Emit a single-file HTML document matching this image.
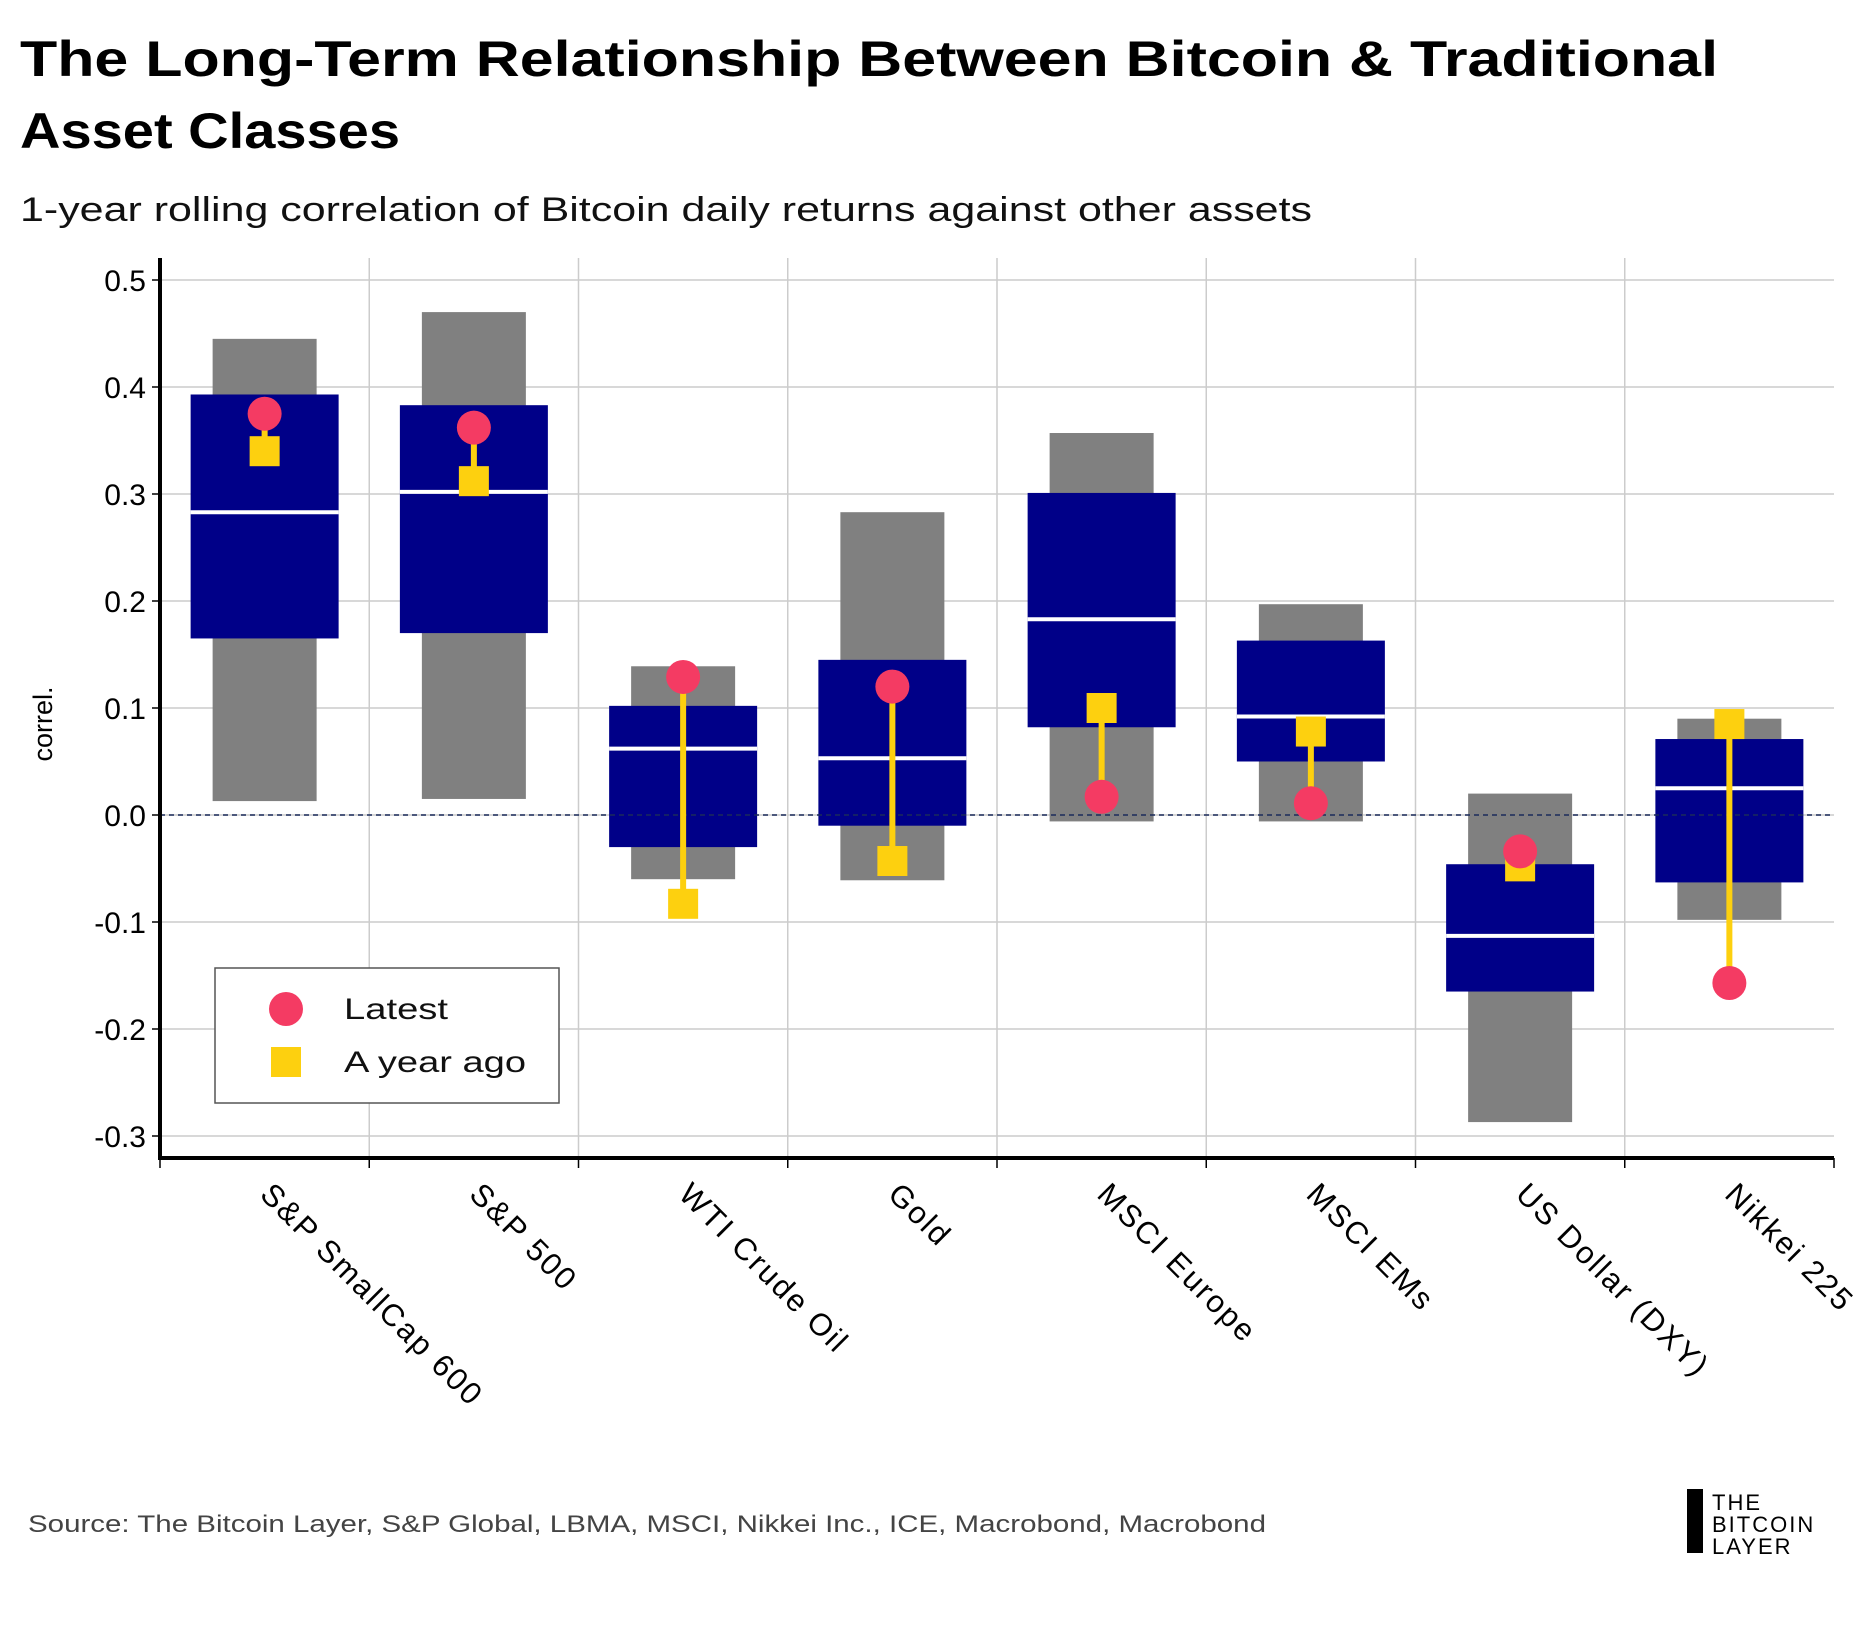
<!DOCTYPE html>
<html><head><meta charset="utf-8"><style>
body{margin:0;background:#fff;width:1875px;height:1625px;overflow:hidden;font-family:"Liberation Sans",sans-serif}
svg text{font-family:"Liberation Sans",sans-serif}
</style></head><body>
<svg id="chart" width="1875" height="1625" viewBox="0 0 1875 1625">
<text x="20" y="76" font-size="50" font-weight="bold" fill="#000" textLength="1698" lengthAdjust="spacingAndGlyphs">The Long-Term Relationship Between Bitcoin &amp; Traditional</text>
<text x="20" y="148" font-size="50" font-weight="bold" fill="#000" textLength="380" lengthAdjust="spacingAndGlyphs">Asset Classes</text>
<text x="20" y="221" font-size="34" fill="#111" textLength="1292" lengthAdjust="spacingAndGlyphs">1-year rolling correlation of Bitcoin daily returns against other assets</text>
<g id="plot"></g>
<text transform="translate(52,724) rotate(-90)" text-anchor="middle" font-size="27" fill="#000">correl.</text>
<g>
<rect x="215" y="968" width="344" height="135" fill="#fff" stroke="#555" stroke-width="1.5"/>
<circle cx="286" cy="1009" r="17" fill="#f43b63"/>
<text x="344" y="1019" font-size="30" fill="#111" textLength="104" lengthAdjust="spacingAndGlyphs">Latest</text>
<rect x="271" y="1047" width="30" height="30" fill="#fdd00f"/>
<text x="344" y="1072" font-size="30" fill="#111" textLength="182" lengthAdjust="spacingAndGlyphs">A year ago</text>
</g>
<text x="28" y="1532" font-size="24" fill="#444" textLength="1238" lengthAdjust="spacingAndGlyphs">Source: The Bitcoin Layer, S&amp;P Global, LBMA, MSCI, Nikkei Inc., ICE, Macrobond, Macrobond</text>
<g>
<rect x="1687" y="1489" width="16" height="64" fill="#000"/>
<text x="1712" y="1510" font-size="22" fill="#000" letter-spacing="2">THE</text>
<text x="1712" y="1532" font-size="22" fill="#000" letter-spacing="2">BITCOIN</text>
<text x="1712" y="1554" font-size="22" fill="#000" letter-spacing="2">LAYER</text>
</g>
</svg>
<script>
const categories=["S&P SmallCap 600","S&P 500","WTI Crude Oil","Gold","MSCI Europe","MSCI EMs","US Dollar (DXY)","Nikkei 225"];
const rangeLow=[0.013,0.015,-0.060,-0.061,-0.006,-0.006,-0.287,-0.098];
const rangeHigh=[0.445,0.470,0.139,0.283,0.357,0.197,0.020,0.090];
const boxLow=[0.165,0.170,-0.030,-0.010,0.082,0.050,-0.165,-0.063];
const boxHigh=[0.393,0.383,0.102,0.145,0.301,0.163,-0.046,0.071];
const medians=[0.283,0.302,0.062,0.053,0.183,0.092,-0.113,0.025];
const latest=[0.375,0.362,0.129,0.120,0.017,0.011,-0.034,-0.157];
const yearAgo=[0.340,0.312,-0.083,-0.043,0.100,0.078,-0.048,0.085];
const yTicks=[-0.3,-0.2,-0.1,0.0,0.1,0.2,0.3,0.4,0.5];
const X0=160,X1=1834,Y0=815,PER=1070;
const bw=(X1-X0)/categories.length;
const y=v=>Y0-v*PER;
const xc=i=>X0+bw*(i+0.5);
const NS="http://www.w3.org/2000/svg";
const g=document.getElementById('plot');
function mk(t,a,p){const e=document.createElementNS(NS,t);for(const k in a)e.setAttribute(k,a[k]);(p||g).appendChild(e);return e;}
yTicks.forEach(v=>{
 const l=mk('line',{x1:X0,x2:X1,y1:y(v),y2:y(v),stroke:'#ccc','stroke-width':1.5});
 
 
 const t=mk('line',{x1:X0-8,x2:X0,y1:y(v),y2:y(v),stroke:'#000','stroke-width':1.5});
 
 
 const tx=mk('text',{x:X0-14,y:y(v)+11,'text-anchor':'end','font-size':30,fill:'#000'});
 tx.textContent=v.toFixed(1);
 
 
});
for(let i=1;i<categories.length;i++){
 const l=mk('line',{x1:X0+bw*i,x2:X0+bw*i,y1:258,y2:y(-0.3)+22,stroke:'#ccc','stroke-width':1.5});
 
 
}
categories.forEach((c,i)=>{
 const cx=xc(i);
 const r=mk('rect',{x:cx-52,width:104,y:y(rangeHigh[i]),height:y(rangeLow[i])-y(rangeHigh[i]),fill:'#808080'});
 
 
 const b=mk('rect',{x:cx-74,width:148,y:y(boxHigh[i]),height:y(boxLow[i])-y(boxHigh[i]),fill:'#000088'});
 
 
 const m=mk('line',{x1:cx-74,x2:cx+74,y1:y(medians[i]),y2:y(medians[i]),stroke:'#fff','stroke-width':4});
 
 
});
const z=mk('line',{x1:X0,x2:X1,y1:Y0,y2:Y0,stroke:'#1a2a5a','stroke-width':1.5,'stroke-dasharray':'5,4'});


categories.forEach((c,i)=>{
 const cx=xc(i);
 const cl=mk('line',{x1:cx,x2:cx,y1:y(latest[i]),y2:y(yearAgo[i]),stroke:'#fdd00f','stroke-width':6});
 
 
 const s=mk('rect',{x:cx-15,y:y(yearAgo[i])-15,width:30,height:30,fill:'#fdd00f'});
 
 
 const p=mk('circle',{cx:cx,cy:y(latest[i]),r:17,fill:'#f43b63'});
 
 
 const t=mk('line',{x1:X0+bw*i,x2:X0+bw*i,y1:y(-0.3)+22,y2:y(-0.3)+32,stroke:'#000','stroke-width':1.5});
 
 
 const lab=mk('text',{transform:`translate(${cx-6},${1196}) rotate(45)`,'font-size':31,'letter-spacing':2.2,fill:'#000'});
 lab.textContent=c;
 
 
});
const t8=mk('line',{x1:X1,x2:X1,y1:y(-0.3)+22,y2:y(-0.3)+32,stroke:'#000','stroke-width':1.5});


const ya=mk('line',{x1:X0,x2:X0,y1:258,y2:y(-0.3)+24,stroke:'#000','stroke-width':4});


const xa=mk('line',{x1:X0-2,x2:X1,y1:y(-0.3)+22,y2:y(-0.3)+22,stroke:'#000','stroke-width':4});


</script>
</body></html>
